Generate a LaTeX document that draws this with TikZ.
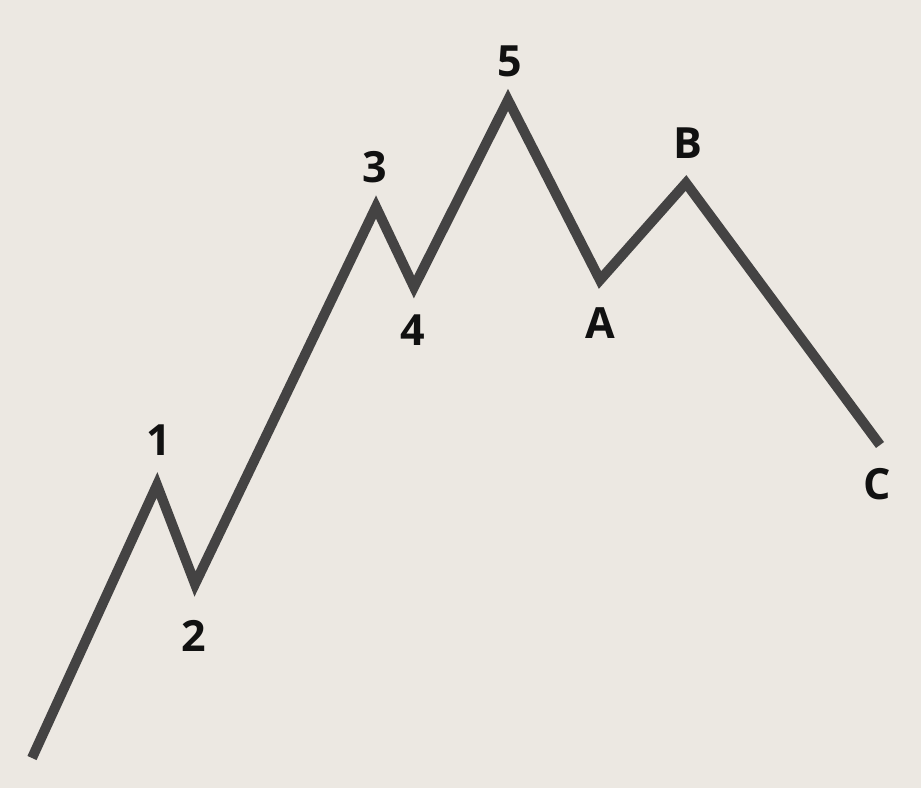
\documentclass[tikz,border=0pt]{standalone}
\usepackage{fontspec}
\setmainfont{Open Sans}
\definecolor{bgc}{HTML}{ECE8E2}
\definecolor{wave}{HTML}{444343}
\definecolor{lbl}{HTML}{111111}
\begin{document}
\begin{tikzpicture}[x=1pt,y=-1pt,
  wavestyle/.style={draw=wave,line width=10pt,line join=miter,line cap=butt},
  lab/.style={font=\fontsize{43}{43}\selectfont\bfseries,text=lbl,inner sep=0pt,anchor=center}]
\fill[bgc] (0,0) rectangle (921,788);
\useasboundingbox (0,0) rectangle (921,788);
\coordinate (s) at (32,758);
\coordinate (w1) at (157,485);
\coordinate (w2) at (195,584);
\coordinate (w3) at (376,207);
\coordinate (w4) at (414,287);
\coordinate (w5) at (508,100);
\coordinate (wA) at (600,280);
\coordinate (wB) at (686,183);
\coordinate (wC) at (880,445);
\draw[wavestyle] (s) -- (w1) -- (w2) -- (w3) -- (w4) -- (w5) -- (wA) -- (wB) -- (wC);
\node[lab] (l1) at (159,440) {1};
\node[lab] (l2) at (194,636) {2};
\node[lab] (l3) at (375,167) {3};
\node[lab] (l4) at (413,330) {4};
\node[lab] (l5) at (510,61) {5};
\node[lab] (lA) at (600,323) {A};
\node[lab] (lB) at (688,143) {B};
\node[lab] (lC) at (877,484) {C};
\end{tikzpicture}
\end{document}
